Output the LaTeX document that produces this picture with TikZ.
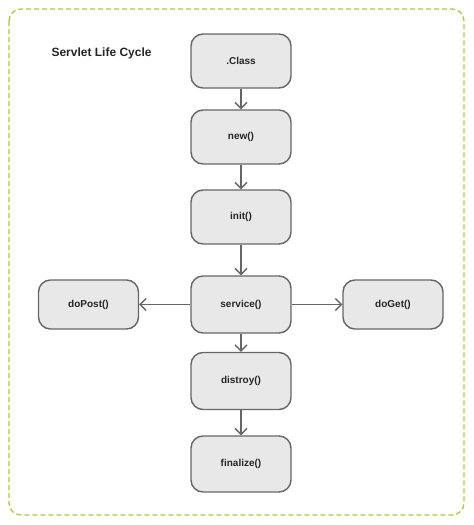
\documentclass[tikz,border=0pt]{standalone}
\usepackage{fontspec}
\setmainfont{Liberation Sans}
\usetikzlibrary{arrows.meta}
\definecolor{frameg}{HTML}{A4CC34}
\definecolor{boxfill}{HTML}{E8E8E8}
\definecolor{boxline}{HTML}{666666}
\tikzset{
  stepbox/.style={draw=boxline, fill=boxfill, line width=1.4pt, rounded corners=12pt,
    minimum width=100pt, minimum height=54pt, inner sep=0pt, font=\fontsize{10}{12}\selectfont\bfseries, text=black!85},
  conn/.style={draw=boxline, line width=1.3pt, -{Straight Barb[length=6pt,width=12pt,line width=1.3pt]}},
  frame/.style={draw=frameg, line width=1.3pt, dash pattern=on 5pt off 3pt, rounded corners=12pt}
}
\begin{document}
\begin{tikzpicture}[x=1pt,y=-1pt]
\useasboundingbox (0,0) rectangle (474,525);
\draw[frame] (9,9) rectangle (464,515);
\node[anchor=west, font=\fontsize{12}{14}\selectfont\bfseries, text=black!85] (title) at (48,53) {Servlet Life Cycle};
\node[stepbox] (cls) at (241,61) {.Class};
\node[stepbox] (new) at (241,137) {new()};
\node[stepbox] (init) at (241,217) {init()};
\node[stepbox, minimum height=57pt] (svc) at (241,304.5) {service()};
\node[stepbox, minimum height=57pt] (dis) at (241,381) {distroy()};
\node[stepbox, minimum height=56pt] (fin) at (241,464) {finalize()};
\node[stepbox, minimum height=49pt] (post) at (88.5,304.5) {doPost()};
\node[stepbox, minimum height=49pt] (get) at (393,304.5) {doGet()};
\draw[conn] (cls) -- (new);
\draw[conn] (new) -- (init);
\draw[conn] (init) -- (svc);
\draw[conn] (svc) -- (dis);
\draw[conn] (dis) -- (fin);
\draw[conn] (svc.west) -- (post.east);
\draw[conn] (svc.east) -- (get.west);
\end{tikzpicture}
\end{document}
